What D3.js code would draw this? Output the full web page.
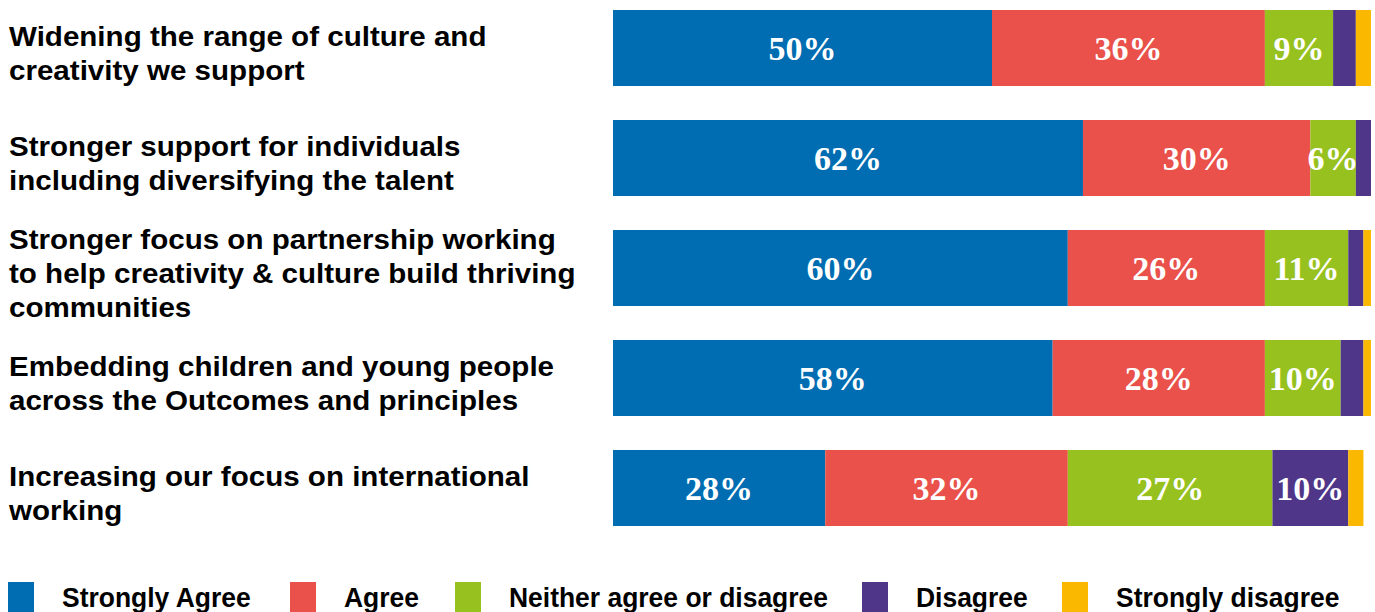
<!DOCTYPE html>
<html>
<head>
<meta charset="utf-8">
<script src="https://cdn.jsdelivr.net/npm/d3@7"></script>
<style>
  body { margin: 0; background: #fff; }
  svg { display: block; }
</style>
</head>
<body>
<div class="chart"></div>
<script>
// statements, each label split into its lines
const statements = [
  ["Widening the range of culture and", "creativity we support"],
  ["Stronger support for individuals", "including diversifying the talent"],
  ["Stronger focus on partnership working", "to help creativity & culture build thriving", "communities"],
  ["Embedding children and young people", "across the Outcomes and principles"],
  ["Increasing our focus on international", "working"]
];
const responses = ["Strongly Agree", "Agree", "Neither agree or disagree", "Disagree", "Strongly disagree"];
const colours = ["#006cb1", "#e9514a", "#97c11f", "#4f3689", "#fbb800"];

// percentages per statement, in the order of responses
const stronglyAgree = [50, 62, 60, 58, 28];
const agree         = [36, 30, 26, 28, 32];
const neither       = [9, 6, 11, 10, 27];
const disagree      = [3, 2, 2, 3, 10];
const stronglyDis   = [2, 0, 1, 1, 2];

const width = 1375, height = 612;

const svg = d3.select(".chart").append("svg")
  .attr("width", width)
  .attr("height", height);

// build stacked rows
const rows = statements.map((s, i) => {
  const vals = [stronglyAgree[i], agree[i], neither[i], disagree[i], stronglyDis[i]];
  let acc = 0;
  const segs = vals.map((v, k) => {
    const seg = {k: k, v: v, x0: acc, x1: acc + v};
    acc += v;
    return seg;
  });
  return {label: s, segs: segs};
});

const x = d3.scaleLinear().domain([0, 100]).range([613, 1371]);
const y = d3.scaleBand().domain(d3.range(rows.length)).range([10, 526]).paddingInner(0.309).paddingOuter(0);

const row = svg.selectAll("g.row")
  .data(rows)
  .enter().append("g")
  .attr("class", "row")
  .attr("transform", (d, i) => "translate(0," + y(i) + ")");

row.selectAll("rect")
  .data(d => d.segs.filter(s => s.v > 0))
  .enter().append("rect")
  .attr("x", d => x(d.x0))
  .attr("width", d => x(d.x1) - x(d.x0))
  .attr("y", 0)
  .attr("height", y.bandwidth())
  .attr("fill", d => colours[d.k]);

// percentage labels on the larger segments
row.selectAll("text.val")
  .data(d => d.segs.filter(s => s.v >= 5))
  .enter().append("text")
  .attr("class", "val")
  .attr("x", d => (x(d.x0) + x(d.x1)) / 2)
  .attr("y", y.bandwidth() / 2 + 12)
  .attr("text-anchor", "middle")
  .attr("fill", "#fff")
  .style("font-family", "'Liberation Serif', 'DejaVu Serif', serif")
  .style("font-weight", "bold")
  .style("font-size", "34px")
  .text(d => d.v + "%");

// statement labels, multi line, roughly centred on the bar
const lineH = 34.5;
const stretch = 1.095;
row.append("text")
  .attr("class", "label")
  .attr("transform", "translate(9,0) scale(" + stretch + ",1)")
  .style("font-family", "'Liberation Sans', Arial, sans-serif")
  .style("font-weight", "bold")
  .style("font-size", "27px")
  .attr("fill", "#000")
  .each(function(d) {
    const t = d3.select(this);
    const n = d.label.length;
    const top = y.bandwidth() / 2 - (n - 1) * lineH / 2 + 15;
    d.label.forEach((line, j) => {
      t.append("tspan")
        .attr("x", 0)
        .attr("y", top + j * lineH)
        .text(line);
    });
  });

// legend
const legendX = [8, 290, 455, 862, 1062];
const legend = svg.append("g").attr("class", "legend");
const item = legend.selectAll("g")
  .data(responses)
  .enter().append("g")
  .attr("transform", (d, i) => "translate(" + legendX[i] + ",582)");
item.append("rect")
  .attr("width", 26)
  .attr("height", 30)
  .attr("fill", (d, i) => colours[i]);
item.append("text")
  .attr("transform", "translate(54,25) scale(0.98,1)")
  .attr("fill", "#000")
  .style("font-family", "'Liberation Sans', Arial, sans-serif")
  .style("font-weight", "bold")
  .style("font-size", "27px")
  .text(d => d);
</script>
</body>
</html>
